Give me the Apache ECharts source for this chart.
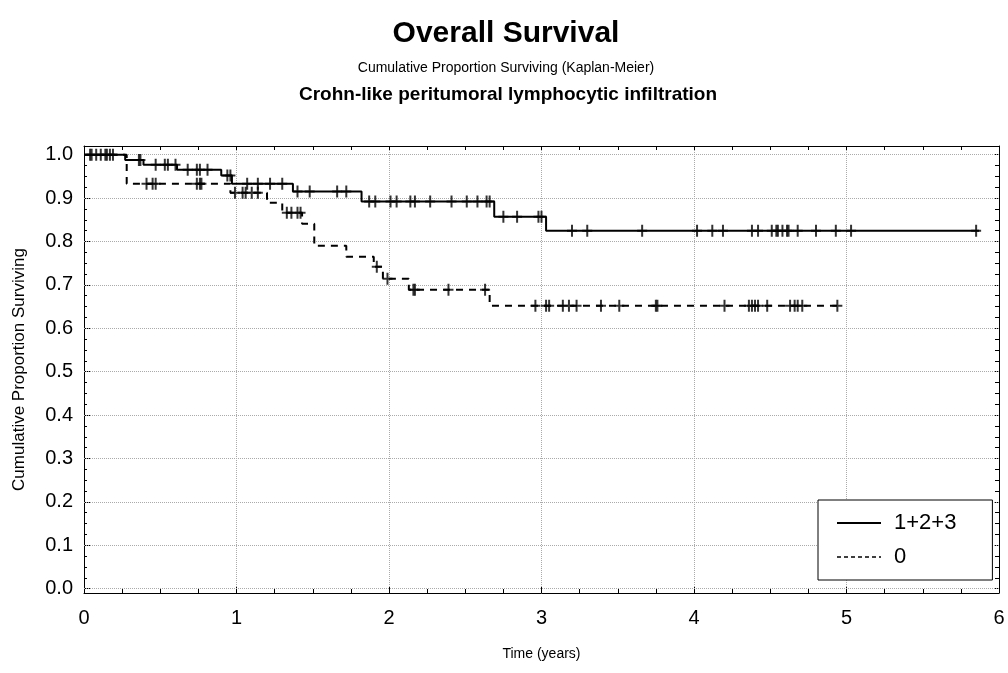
<!DOCTYPE html>
<html><head><meta charset="utf-8">
<script src="https://cdn.jsdelivr.net/npm/echarts@6/dist/echarts.min.js"></script>
<style>html,body{margin:0;padding:0;background:#fff}#c{width:1008px;height:673px}</style>
</head><body><div id="c"></div>
<script>
// ---- data ----
const seriesNames = ['1+2+3', '0'];
const solidTimes  = [0, 0.27, 0.39, 0.61, 0.90, 0.97, 1.37, 1.82, 2.69, 3.03, 5.87];
const solidValues = [1.0, 0.988, 0.977, 0.965, 0.952, 0.933, 0.915, 0.892, 0.857, 0.825, 0.825];
const solidCensored = [0.05, 0.08, 0.11, 0.14, 0.17, 0.36, 0.37, 0.47, 0.53, 0.55, 0.60, 0.68, 0.74, 0.76, 0.81,
  0.94, 0.96, 1.07, 1.14, 1.22, 1.30, 1.40, 1.48, 1.66, 1.72, 1.87, 1.91, 2.01, 2.05, 2.14, 2.17, 2.27, 2.41,
  2.51, 2.58, 2.64, 2.66, 2.75, 2.84, 2.98, 3.00, 3.20, 3.30, 3.66, 4.02, 4.12, 4.19, 4.38, 4.42, 4.51, 4.54,
  4.55, 4.58, 4.61, 4.62, 4.68, 4.80, 4.93, 5.03, 5.85];
const dashTimes  = [0, 0.28, 0.96, 1.20, 1.30, 1.43, 1.51, 1.72, 1.90, 1.96, 2.13, 2.66, 4.94];
const dashValues = [1.0, 0.933, 0.912, 0.889, 0.866, 0.841, 0.790, 0.765, 0.742, 0.714, 0.689, 0.652, 0.652];
const dashCensored = [0.04, 0.15, 0.19, 0.41, 0.45, 0.47, 0.74, 0.76, 0.77, 0.99, 1.04, 1.06, 1.10, 1.14,
  1.33, 1.36, 1.40, 1.42, 1.92, 1.99, 2.16, 2.17, 2.39, 2.63, 2.96, 3.03, 3.05, 3.14, 3.18, 3.23, 3.39, 3.51,
  3.75, 3.76, 4.20, 4.36, 4.38, 4.40, 4.42, 4.48, 4.63, 4.66, 4.68, 4.71, 4.94];
const yTickValues = [0, 0.1, 0.2, 0.3, 0.4, 0.5, 0.6, 0.7, 0.8, 0.9, 1.0];
const yMinorValues = [0,0.025,0.05,0.075,0.1,0.125,0.15,0.175,0.2,0.225,0.25,0.275,0.3,0.325,0.35,0.375,0.4,0.425,0.45,0.475,0.5,0.525,0.55,0.575,0.6,0.625,0.65,0.675,0.7,0.725,0.75,0.775,0.8,0.825,0.85,0.875,0.9,0.925,0.95,0.975,1.0];
const titleText = 'Overall Survival';
const subText1 = 'Cumulative Proportion Surviving (Kaplan-Meier)';
const subText2 = 'Crohn-like peritumoral lymphocytic infiltration';
const yName = 'Cumulative Proportion Surviving';
const xName = 'Time (years)';

// ---- build ----
function pairs(ts, vs) { return ts.map((t, i) => [t, vs[i]]); }
function valueAt(ts, vs, t) { let v = vs[0]; for (let i = 0; i < ts.length; i++) { if (ts[i] <= t) v = vs[i]; } return v; }
const FONT = 'Liberation Sans';
const plus = 'path://M4,0L6,0L6,5L10,5L10,7L6,7L6,12L4,12L4,7L0,7L0,5L4,5Z';
const yMin = -0.01, yMax = 1.02;

const chart = echarts.init(document.getElementById('c'), null, {renderer: 'canvas'});
chart.setOption({
  animation: false,
  backgroundColor: '#fff',
  textStyle: {fontFamily: FONT, color: '#000'},
  graphic: [
    {type: 'text', x: 506, y: 34, style: {text: titleText, font: 'bold 30px "Liberation Sans"', fill: '#000', textAlign: 'center', textVerticalAlign: 'middle'}},
    {type: 'text', x: 506, y: 68, style: {text: subText1, font: '14px "Liberation Sans"', fill: '#000', textAlign: 'center', textVerticalAlign: 'middle'}},
    {type: 'text', x: 508, y: 95, style: {text: subText2, font: 'bold 19px "Liberation Sans"', fill: '#000', textAlign: 'center', textVerticalAlign: 'middle'}}
  ],
  grid: {left: 84, top: 146, width: 915, height: 447, show: false},
  legend: {
    orient: 'vertical', left: 818, top: 500, selectedMode: false,
    data: [
      {name: seriesNames[0], lineStyle: {type: 'solid', width: 2, color: '#000'}},
      {name: seriesNames[1], lineStyle: {type: [4, 3], width: 1.5, color: '#000'}}
    ],
    itemWidth: 44, itemHeight: 14, itemGap: 12,
    itemStyle: {color: 'rgba(0,0,0,0)', borderWidth: 0, opacity: 0},
    padding: [12, 36, 12, 18],
    borderColor: '#000', borderWidth: 1, backgroundColor: '#fff',
    textStyle: {fontSize: 22, color: '#000', fontFamily: FONT, padding: [0, 0, 0, 8]}
  },
  xAxis: [
    {type: 'value', min: 0, max: 6, interval: 1, position: 'bottom',
     axisLine: {show: true, onZero: false, lineStyle: {color: '#000', width: 1}},
     axisTick: {show: true, inside: true, length: 6, lineStyle: {color: '#000'}},
     minorTick: {show: true, splitNumber: 4, length: 4, lineStyle: {color: '#000'}},
     axisLabel: {fontSize: 20, color: '#000', margin: 15, fontFamily: FONT},
     splitLine: {show: true, lineStyle: {color: '#aaa', type: 'dotted', width: 1}},
     name: xName, nameLocation: 'middle', nameGap: 54,
     nameTextStyle: {fontSize: 14, color: '#000', fontFamily: FONT}},
    {type: 'value', min: 0, max: 6, interval: 1, position: 'top',
     axisLine: {show: true, onZero: false, lineStyle: {color: '#000', width: 1}},
     axisTick: {show: true, inside: true, length: 4, lineStyle: {color: '#000'}},
     minorTick: {show: true, splitNumber: 4, length: 4, lineStyle: {color: '#000'}},
     axisLabel: {show: false}, splitLine: {show: false}}
  ],
  yAxis: [
    {type: 'value', min: yMin, max: yMax, position: 'left',
     axisLine: {show: true, onZero: false, lineStyle: {color: '#000', width: 1}},
     axisTick: {show: true, inside: true, length: 6, customValues: yTickValues, lineStyle: {color: '#000'}},
     axisLabel: {customValues: yTickValues, fontSize: 20, color: '#000', margin: 11, fontFamily: FONT,
                 formatter: v => v.toFixed(1)},
     splitLine: {show: false},
     name: yName, nameLocation: 'middle', nameGap: 56,
     nameTextStyle: {fontSize: 17, color: '#000', fontFamily: FONT}},
    {type: 'value', min: yMin, max: yMax, position: 'left', offset: 0,
     axisLine: {show: false, onZero: false},
     axisTick: {show: true, inside: true, length: 3, customValues: yMinorValues, lineStyle: {color: '#000'}},
     axisLabel: {show: false}, splitLine: {show: false}},
    {type: 'value', min: yMin, max: yMax, position: 'right', offset: 0,
     axisLine: {show: true, onZero: false, lineStyle: {color: '#000', width: 1}},
     axisTick: {show: true, inside: true, length: 4, customValues: yMinorValues, lineStyle: {color: '#000'}},
     axisLabel: {show: false}, splitLine: {show: false}}
  ],
  series: [
    {name: seriesNames[0], type: 'line', step: 'end', symbol: 'none', xAxisIndex: 0, yAxisIndex: 0, z: 3,
     data: pairs(solidTimes, solidValues),
     lineStyle: {color: '#000', width: 2, type: 'solid'}, itemStyle: {color: '#000'},
     markLine: {silent: true, symbol: 'none', z: 1, label: {show: false},
       lineStyle: {color: '#aaa', type: 'dotted', width: 1},
       data: yTickValues.map(v => ({yAxis: v}))}},
    {name: seriesNames[1], type: 'line', step: 'end', symbol: 'none', xAxisIndex: 0, yAxisIndex: 0, z: 3,
     data: pairs(dashTimes, dashValues),
     lineStyle: {color: '#000', width: 2, type: [7, 6]}, itemStyle: {color: '#000'}},
    {name: 'censored-a', type: 'scatter', symbol: plus, symbolSize: [10, 12], xAxisIndex: 0, yAxisIndex: 0, z: 4,
     itemStyle: {color: '#000'},
     data: solidCensored.map(t => [t, valueAt(solidTimes, solidValues, t)])},
    {name: 'censored-b', type: 'scatter', symbol: plus, symbolSize: [10, 12], xAxisIndex: 0, yAxisIndex: 0, z: 4,
     itemStyle: {color: '#000'},
     data: dashCensored.map(t => [t, valueAt(dashTimes, dashValues, t)])}
  ]
});
</script>
</body></html>
